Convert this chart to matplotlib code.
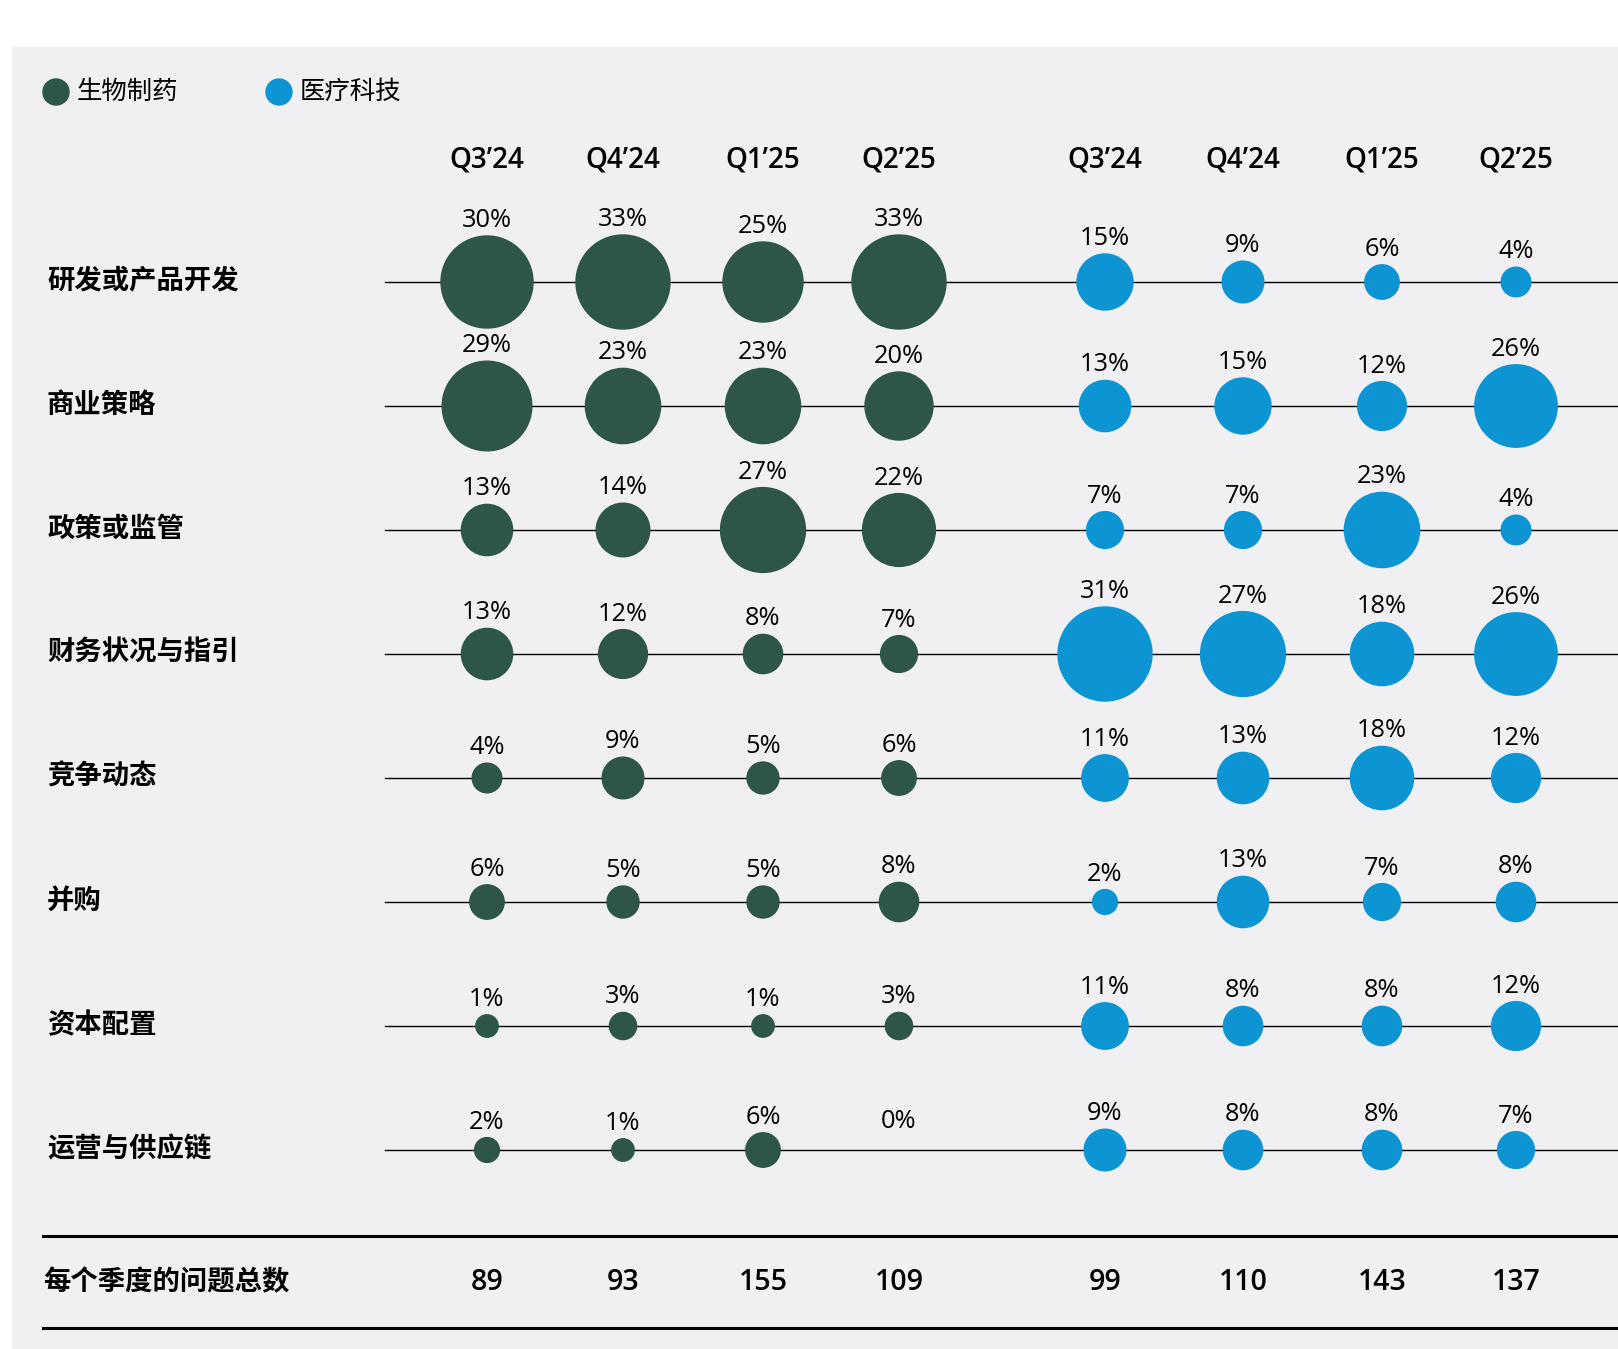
import numpy as np
import matplotlib
matplotlib.use("Agg")
import matplotlib.pyplot as plt
from matplotlib.patches import Circle, Rectangle

# ---- data ----
quarters = ["Q3\u201924", "Q4\u201924", "Q1\u201925", "Q2\u201925"]
topics = ["研发或产品开发", "商业策略", "政策或监管", "财务状况与指引",
          "竞争动态", "并购", "资本配置", "运营与供应链"]
biopharma = [
    [30, 33, 25, 33],
    [29, 23, 23, 20],
    [13, 14, 27, 22],
    [13, 12, 8, 7],
    [4, 9, 5, 6],
    [6, 5, 5, 8],
    [1, 3, 1, 3],
    [2, 1, 6, 0],
]
medtech = [
    [15, 9, 6, 4],
    [13, 15, 12, 26],
    [7, 7, 23, 4],
    [31, 27, 18, 26],
    [11, 13, 18, 12],
    [2, 13, 7, 8],
    [11, 8, 8, 12],
    [9, 8, 8, 7],
]
totals_bio = [89, 93, 155, 109]
totals_med = [99, 110, 143, 137]
series_names = ["生物制药", "医疗科技"]

GREEN = "#2d554a"
BLUE = "#0d94d3"
BG = "#f0f0f2"
CJK = ["Noto Sans CJK SC", "DejaVu Sans"]
LAT = ["Open Sans", "DejaVu Sans"]

W, H = 1618, 1349
fig = plt.figure(figsize=(W / 100, H / 100), dpi=100)
ax = fig.add_axes([0, 0, 1, 1])
ax.set_xlim(0, W)
ax.set_ylim(H, 0)
ax.axis("off")

# gray panel
ax.add_patch(Rectangle((12, 47), W - 12, H - 47, color=BG, zorder=0))

# layout (pixels)
col_x = [487, 623, 763, 899, 1105, 1243, 1382, 1516]
row_y0, row_dy = 282, 124


def diam(p):
    # bubble diameter in px, grows with share, capped like the original
    return min(20 + 2.4 * p, 94)


# legend
for (lx, name, col) in [(56, series_names[0], GREEN), (279, series_names[1], BLUE)]:
    ax.add_patch(Circle((lx, 92), 13, color=col, zorder=3))
    ax.text(lx + 21, 92, name, fontsize=18.3, family=CJK, va="center", ha="left")

# column headers
for i, x in enumerate(col_x):
    ax.text(x, 160, quarters[i % 4], fontsize=20, family=LAT, weight="semibold",
            ha="center", va="center")

# rows
for r, topic in enumerate(topics):
    y = row_y0 + r * row_dy
    ax.plot([385, W], [y, y], color="black", lw=1.0, zorder=1)
    ax.text(47, y - 1, topic, fontsize=19.7, family=CJK, weight="bold",
            ha="left", va="center")
    vals = biopharma[r] + medtech[r]
    for c, v in enumerate(vals):
        col = GREEN if c < 4 else BLUE
        rad = diam(v) / 2 if v > 0 else 0
        if v > 0:
            ax.add_patch(Circle((col_x[c], y), rad, color=col, zorder=3))
        lab_r = rad if v > 0 else 13
        ax.text(col_x[c], y - lab_r - 9, f"{v}%", fontsize=18.3, family=LAT,
                ha="center", va="baseline")

# totals
ax.plot([43, W], [1236, 1236], color="black", lw=2.2)
ax.plot([43, W], [1328, 1328], color="black", lw=2.2)
ax.text(43, 1282, "每个季度的问题总数", fontsize=19.7, family=CJK, weight="bold",
        ha="left", va="center")
for c, v in enumerate(totals_bio + totals_med):
    ax.text(col_x[c], 1283, str(v), fontsize=20.5, family=LAT, weight="semibold",
            ha="center", va="center")

fig.savefig("out.png", dpi=100, facecolor="white")
